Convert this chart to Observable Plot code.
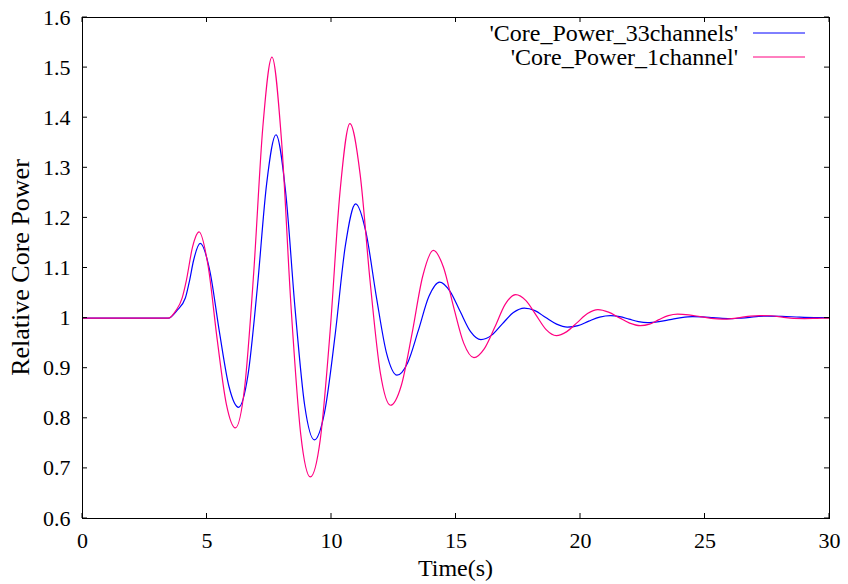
<!DOCTYPE html>
<html><head><meta charset="utf-8">
<script src="https://cdn.jsdelivr.net/npm/d3@7"></script>
<script src="https://cdn.jsdelivr.net/npm/@observablehq/plot@0.6"></script>
<style>html,body{margin:0;padding:0;background:#fff}</style>
</head><body><div id="chart"></div>
<script>
const seriesNames = ["'Core_Power_33channels'", "'Core_Power_1channel'"];
const seriesColors = ["#0000ff", "#ff0080"];

const t33 = [0, 3.45, 3.79, 4.13, 4.3, 4.46, 4.73, 5.115, 5.5, 5.885, 6.27, 6.645, 7.02, 7.395, 7.77, 8.155, 8.54, 8.925, 9.31, 9.725, 10.14, 10.555, 10.97, 11.385, 11.8, 12.215, 12.63, 13.06, 13.485, 13.91, 14.34, 14.755, 15.17, 15.585, 16.0, 16.435, 16.87, 17.305, 17.74, 18.17, 18.605, 19.04, 19.47, 19.9, 20.335, 20.77, 21.2, 21.575, 21.95, 22.325, 22.7, 23.15, 23.6, 24.05, 24.5, 24.9, 25.3, 25.7, 26.1, 26.45, 26.8, 27.15, 27.5, 28.1, 28.8, 29.4, 30];
const p33 = [1.0, 1.0, 1.015, 1.04, 1.075, 1.115, 1.149, 1.094, 0.972, 0.863, 0.822, 0.886, 1.060, 1.268, 1.366, 1.253, 1.017, 0.825, 0.757, 0.813, 0.964, 1.144, 1.228, 1.171, 1.043, 0.929, 0.886, 0.911, 0.975, 1.043, 1.072, 1.054, 1.013, 0.973, 0.957, 0.966, 0.989, 1.011, 1.020, 1.015, 1.001, 0.988, 0.982, 0.985, 0.994, 1.002, 1.005, 1.003, 0.998, 0.993, 0.991, 0.993, 0.997, 1.001, 1.003, 1.0024, 1.001, 0.9996, 0.999, 1.0, 1.0015, 1.0033, 1.004, 1.0035, 1.002, 1.0012, 1.001];

const t1 = [0, 1.5, 3.45, 3.75, 4.0, 4.17, 4.42, 4.68, 5.045, 5.41, 5.775, 6.14, 6.51, 6.875, 7.24, 7.61, 7.995, 8.38, 8.765, 9.15, 9.55, 9.945, 10.34, 10.74, 11.15, 11.555, 11.96, 12.37, 12.8, 13.23, 13.66, 14.09, 14.5, 14.905, 15.31, 15.72, 16.14, 16.56, 16.98, 17.4, 17.81, 18.215, 18.62, 19.03, 19.45, 19.865, 20.28, 20.7, 21.125, 21.55, 21.975, 22.4, 22.775, 23.15, 23.525, 23.9, 24.35, 24.8, 25.25, 25.7, 26.075, 26.45, 26.825, 27.2, 27.65, 28.1, 28.55, 29.0, 29.5, 30];
const p1 = [1.0, 1.0, 1.0, 1.015, 1.04, 1.075, 1.142, 1.172, 1.104, 0.957, 0.829, 0.781, 0.861, 1.090, 1.380, 1.521, 1.353, 1.019, 0.768, 0.683, 0.758, 0.974, 1.251, 1.388, 1.287, 1.071, 0.891, 0.826, 0.865, 0.968, 1.083, 1.135, 1.101, 1.022, 0.950, 0.921, 0.939, 0.982, 1.028, 1.047, 1.035, 1.006, 0.977, 0.965, 0.973, 0.991, 1.009, 1.017, 1.012, 1.001, 0.990, 0.985, 0.988, 0.997, 1.005, 1.008, 1.0065, 1.003, 0.9995, 0.998, 0.999, 1.0015, 1.004, 1.005, 1.0047, 1.002, 0.9993, 0.999, 0.9995, 1.0];

const xTicks = [0, 5, 10, 15, 20, 25, 30];
const xTickLabels = ["0", "5", "10", "15", "20", "25", "30"];
const yTicks = [0.6, 0.7, 0.8, 0.9, 1.0, 1.1, 1.2, 1.3, 1.4, 1.5, 1.6];
const yTickLabels = ["0.6", "0.7", "0.8", "0.9", "1", "1.1", "1.2", "1.3", "1.4", "1.5", "1.6"];
const xLabel = "Time(s)";
const yLabel = "Relative Core Power";

const data = [
  ...t33.map((t, i) => ({t, p: p33[i], s: seriesNames[0]})),
  ...t1.map((t, i) => ({t, p: p1[i], s: seriesNames[1]}))
];

const W = 848, H = 584, mL = 82, mR = 19, mT = 17, mB = 66;
const font = "'Liberation Serif', 'Times New Roman', serif";

const chart = Plot.plot({
  width: W, height: H,
  marginLeft: mL, marginRight: mR, marginTop: mT, marginBottom: mB,
  style: {fontFamily: font, fontSize: "22px", background: "#fff", color: "#000"},
  x: {domain: [0, 30], ticks: xTicks, tickSize: 0, tickPadding: 14, label: null,
      tickFormat: d => xTickLabels[xTicks.indexOf(d)]},
  y: {domain: [0.6, 1.6], ticks: yTicks, tickSize: 0, tickPadding: 12, label: null,
      tickFormat: d => yTickLabels[yTicks.indexOf(d)]},
  color: {domain: seriesNames, range: seriesColors},
  marks: [
    Plot.line(data, {x: "t", y: "p", z: "s", stroke: "s", curve: "monotone-x", strokeWidth: 1.2}),
    Plot.frame({stroke: "#000", strokeWidth: 1})
  ]
});

const svg = d3.select(chart);
const sx = chart.scale("x"), sy = chart.scale("y");
const xl = mL, xr = W - mR, yt = mT, yb = H - mB;
const tk = 5;
const g = svg.append("g").attr("stroke", "#000").attr("stroke-width", 1);
xTicks.forEach(v => {
  const x = sx.apply(v);
  g.append("line").attr("x1", x).attr("x2", x).attr("y1", yb).attr("y2", yb - tk);
  g.append("line").attr("x1", x).attr("x2", x).attr("y1", yt).attr("y2", yt + tk);
});
yTicks.forEach(v => {
  const y = sy.apply(v);
  g.append("line").attr("x1", xl).attr("x2", xl + tk).attr("y1", y).attr("y2", y);
  g.append("line").attr("x1", xr).attr("x2", xr - tk).attr("y1", y).attr("y2", y);
});

svg.append("text").attr("x", (xl + xr) / 2).attr("y", 576)
  .attr("text-anchor", "middle").attr("font-size", 24).attr("font-family", font).attr("fill", "#000")
  .text(xLabel);
svg.append("text").attr("transform", `translate(29,${(yt + yb) / 2}) rotate(-90)`)
  .attr("text-anchor", "middle").attr("font-size", 26).attr("font-family", font).attr("fill", "#000")
  .text(yLabel);

const lg = svg.append("g").attr("font-family", font).attr("font-size", 24);
seriesNames.forEach((name, i) => {
  const cy = 33 + i * 24;
  lg.append("text").attr("x", 738).attr("y", cy + 8).attr("text-anchor", "end").attr("fill", "#000").text(name);
  lg.append("line").attr("x1", 753).attr("x2", 805).attr("y1", cy).attr("y2", cy)
    .style("stroke", seriesColors[i]).attr("stroke-width", 1);
});

document.getElementById("chart").appendChild(chart);
</script>
</body></html>
